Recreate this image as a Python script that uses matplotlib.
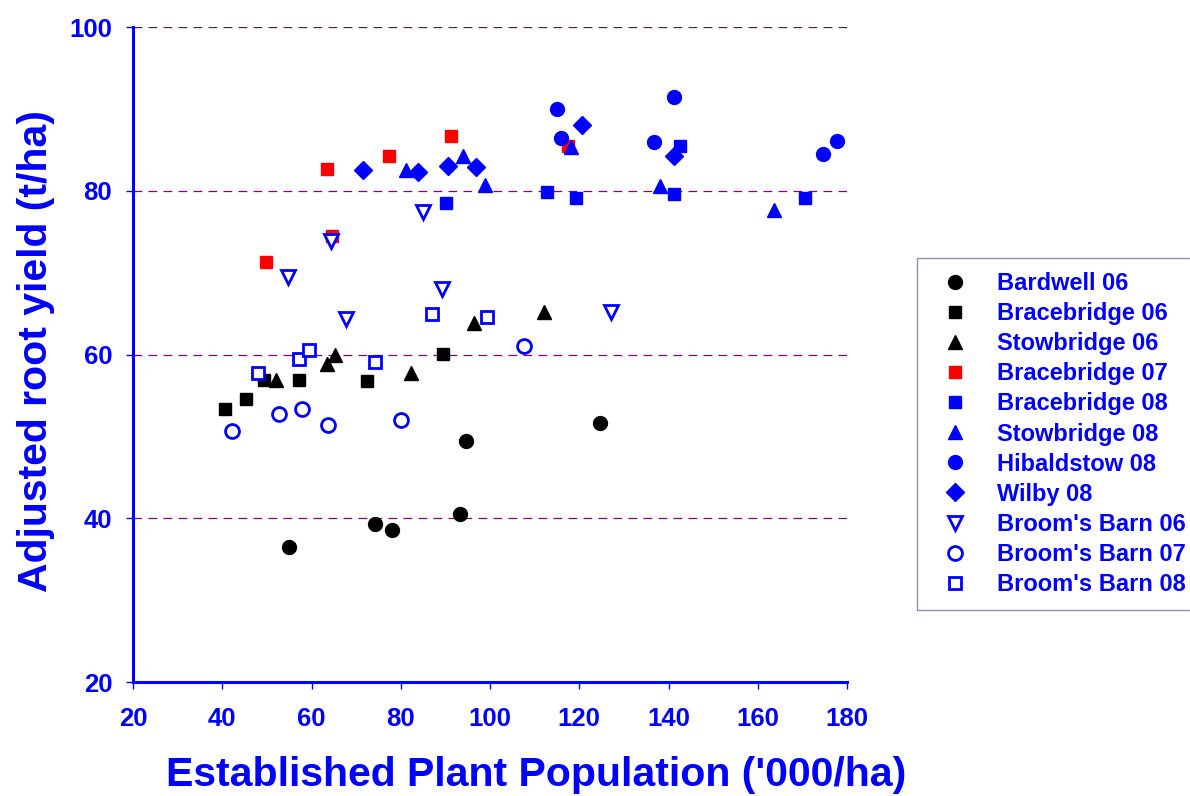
import matplotlib
matplotlib.use('Agg')
import matplotlib.pyplot as plt

plt.rcParams['font.family'] = ['Liberation Sans', 'DejaVu Sans']

# data (plant population '000/ha, adjusted root yield t/ha)
bardwell06_x = [55.0, 74.2, 78.0, 93.3, 94.6, 124.6]
bardwell06_y = [36.5, 39.3, 38.6, 40.5, 49.4, 51.6]

bracebridge06_x = [40.5, 45.3, 49.4, 57.3, 72.4, 89.4]
bracebridge06_y = [53.4, 54.6, 56.9, 56.9, 56.8, 60.1]

stowbridge06_x = [52.0, 63.4, 65.3, 82.3, 96.3, 112.2]
stowbridge06_y = [56.9, 58.9, 59.9, 57.7, 63.8, 65.2]

bracebridge07_x = [49.8, 63.5, 64.6, 77.4, 91.3, 117.5]
bracebridge07_y = [71.3, 82.7, 74.5, 84.2, 86.7, 85.5]

bracebridge08_x = [90.1, 112.7, 119.3, 141.2, 142.6, 170.5]
bracebridge08_y = [78.5, 79.8, 79.1, 79.6, 85.5, 79.1]

stowbridge08_x = [81.2, 93.9, 98.9, 118.2, 138.1, 163.6]
stowbridge08_y = [82.5, 84.2, 80.7, 85.4, 80.6, 77.6]

hibaldstow08_x = [114.9, 115.9, 136.8, 141.3, 174.7, 177.8]
hibaldstow08_y = [90.0, 86.5, 86.0, 91.4, 84.5, 86.1]

wilby08_x = [71.5, 83.9, 90.5, 96.9, 120.7, 141.2]
wilby08_y = [82.5, 82.3, 83.0, 82.9, 88.0, 84.2]

bb06_x = [54.7, 64.4, 67.7, 84.9, 89.2, 127.1]
bb06_y = [69.5, 73.9, 64.3, 77.4, 68.0, 65.2]

bb07_x = [42.1, 52.6, 57.9, 63.6, 80.1, 107.5]
bb07_y = [50.6, 52.7, 53.3, 51.4, 52.0, 61.0]

bb08_x = [47.9, 57.2, 59.5, 74.2, 87.1, 99.3]
bb08_y = [57.7, 59.4, 60.6, 59.1, 64.9, 64.6]

x_ticks = [20, 40, 60, 80, 100, 120, 140, 160, 180]
y_ticks = [20, 40, 60, 80, 100]

blue = '#0000FF'
purple = '#800080'

fig = plt.figure(figsize=(11.9, 7.96), dpi=100)
ax = fig.add_axes([0.1118, 0.1432, 0.6, 0.8228])

for y in [40, 60, 80]:
    ax.axhline(y, color=purple, linestyle=(0, (7, 5)), linewidth=0.9, zorder=1)
ax.axhline(100, color='#402040', linestyle=(0, (7, 5)), linewidth=0.9, zorder=1)

ms = 10
ax.plot(bardwell06_x, bardwell06_y, 'o', color='black', ms=ms, ls='none', label='Bardwell 06')
ax.plot(bracebridge06_x, bracebridge06_y, 's', color='black', ms=ms - 1, ls='none', label='Bracebridge 06')
ax.plot(stowbridge06_x, stowbridge06_y, '^', color='black', ms=ms, ls='none', label='Stowbridge 06')
ax.plot(bracebridge07_x, bracebridge07_y, 's', color='red', ms=ms - 1, ls='none', label='Bracebridge 07')
ax.plot(bracebridge08_x, bracebridge08_y, 's', color=blue, ms=ms - 1, ls='none', label='Bracebridge 08')
ax.plot(stowbridge08_x, stowbridge08_y, '^', color=blue, ms=ms, ls='none', label='Stowbridge 08')
ax.plot(hibaldstow08_x, hibaldstow08_y, 'o', color=blue, ms=ms, ls='none', label='Hibaldstow 08')
ax.plot(wilby08_x, wilby08_y, 'D', color=blue, ms=ms - 1, ls='none', label='Wilby 08')
ax.plot(bb06_x, bb06_y, 'v', mfc='white', mec=blue, mew=2, ms=ms, ls='none', label="Broom's Barn 06")
ax.plot(bb07_x, bb07_y, 'o', mfc='white', mec=blue, mew=2, ms=ms, ls='none', label="Broom's Barn 07")
ax.plot(bb08_x, bb08_y, 's', mfc='white', mec=blue, mew=2, ms=ms - 1, ls='none', label="Broom's Barn 08")

ax.set_xlim(20, 180)
ax.set_ylim(20, 100)
ax.set_xticks(x_ticks)
ax.set_yticks(y_ticks)

for side in ['top', 'right']:
    ax.spines[side].set_visible(False)
for side in ['left', 'bottom']:
    ax.spines[side].set_color(blue)
    ax.spines[side].set_linewidth(2.2)

ax.tick_params(axis='both', colors=blue, width=1.0, length=5, direction='out', labelsize=18.5)
ax.tick_params(axis='x', pad=13)
ax.tick_params(axis='y', pad=10)
for lab in ax.get_xticklabels() + ax.get_yticklabels():
    lab.set_fontweight('bold')

ax.set_xlabel("Established Plant Population ('000/ha)", fontsize=29.5, fontweight='bold',
              color=blue, va='center')
ax.xaxis.set_label_coords(0.564, -0.142)
ax.set_ylabel('Adjusted root yield (t/ha)', fontsize=29.5, fontweight='bold',
              color=blue, va='center')
ax.yaxis.set_label_coords(-0.136, 0.505)

leg = ax.legend(loc='upper left', bbox_to_anchor=(0.7706, 0.6759), bbox_transform=fig.transFigure,
                frameon=True, fancybox=False, prop={'weight': 'bold', 'size': 17},
                handletextpad=0.77, labelspacing=0.3, borderpad=0.6, markerscale=1.0,
                handlelength=2.0, borderaxespad=0)
leg.get_frame().set_edgecolor('#7070b0')
leg.get_frame().set_linewidth(1.0)
for t in leg.get_texts():
    t.set_color(blue)

fig.savefig('out.png', dpi=100)
